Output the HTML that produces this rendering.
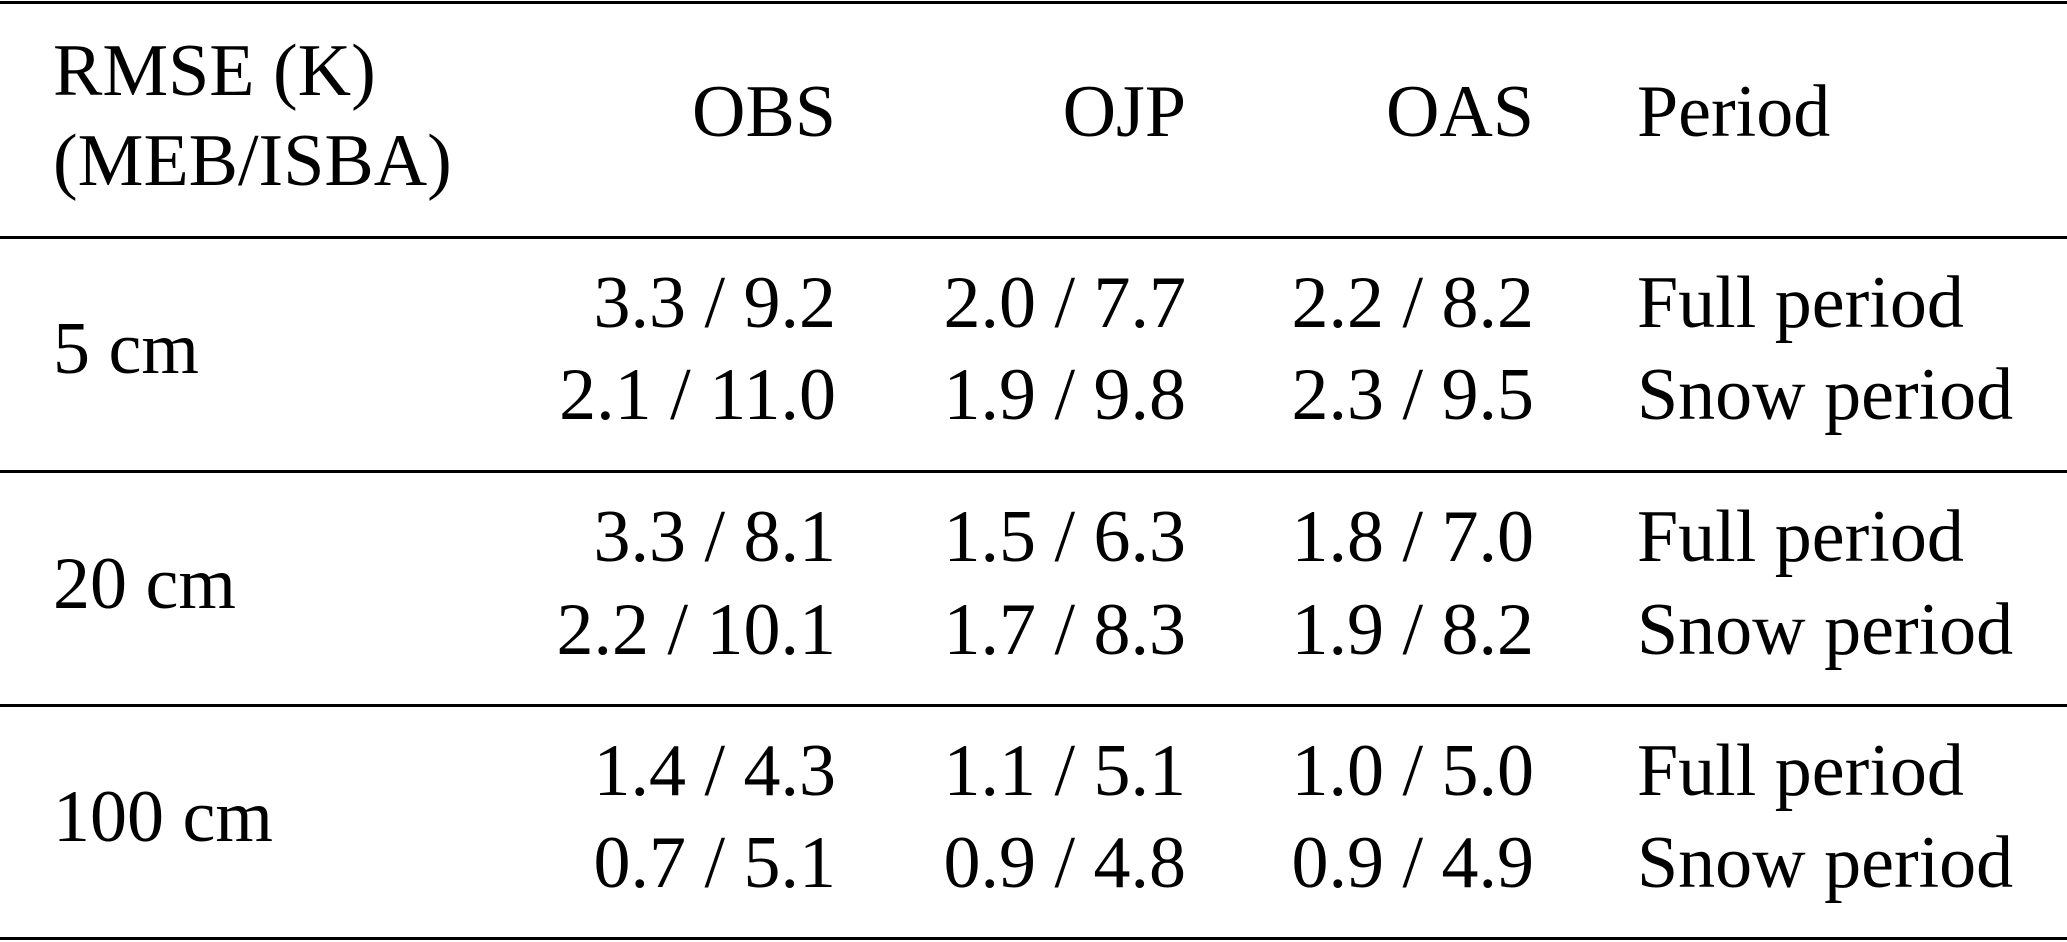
<!DOCTYPE html>
<html><head><meta charset="utf-8"><style>
html,body{margin:0;padding:0;background:#fff;}
svg{display:block;}
text{font-family:"Liberation Serif",serif;font-size:74px;fill:#000;}
.r{text-anchor:end;}
</style></head><body>
<svg width="2067" height="942" viewBox="0 0 2067 942">
<rect x="0" y="1" width="2067" height="3" fill="#000"/>
<rect x="0" y="236" width="2067" height="3" fill="#000"/>
<rect x="0" y="470" width="2067" height="3" fill="#000"/>
<rect x="0" y="704" width="2067" height="3" fill="#000"/>
<rect x="0" y="937" width="2067" height="3" fill="#000"/>

<text x="53" y="95">RMSE (K)</text>
<text x="53" y="185">(MEB/ISBA)</text>
<text class="r" x="836" y="136">OBS</text>
<text class="r" x="1186" y="136">OJP</text>
<text class="r" x="1534" y="136">OAS</text>
<text x="1637" y="136">Period</text>

<text x="53" y="373">5 cm</text>
<text class="r" x="836" y="327">3.3 / 9.2</text>
<text class="r" x="1186" y="327">2.0 / 7.7</text>
<text class="r" x="1534" y="327">2.2 / 8.2</text>
<text x="1637" y="327">Full period</text>
<text class="r" x="836" y="419">2.1 / 11.0</text>
<text class="r" x="1186" y="419">1.9 / 9.8</text>
<text class="r" x="1534" y="419">2.3 / 9.5</text>
<text x="1637" y="419">Snow period</text>

<text x="53" y="608">20 cm</text>
<text class="r" x="836" y="561">3.3 / 8.1</text>
<text class="r" x="1186" y="561">1.5 / 6.3</text>
<text class="r" x="1534" y="561">1.8 / 7.0</text>
<text x="1637" y="561">Full period</text>
<text class="r" x="836" y="654">2.2 / 10.1</text>
<text class="r" x="1186" y="654">1.7 / 8.3</text>
<text class="r" x="1534" y="654">1.9 / 8.2</text>
<text x="1637" y="654">Snow period</text>

<text x="53" y="841">100 cm</text>
<text class="r" x="836" y="795">1.4 / 4.3</text>
<text class="r" x="1186" y="795">1.1 / 5.1</text>
<text class="r" x="1534" y="795">1.0 / 5.0</text>
<text x="1637" y="795">Full period</text>
<text class="r" x="836" y="887">0.7 / 5.1</text>
<text class="r" x="1186" y="887">0.9 / 4.8</text>
<text class="r" x="1534" y="887">0.9 / 4.9</text>
<text x="1637" y="887">Snow period</text>
</svg>
</body></html>
